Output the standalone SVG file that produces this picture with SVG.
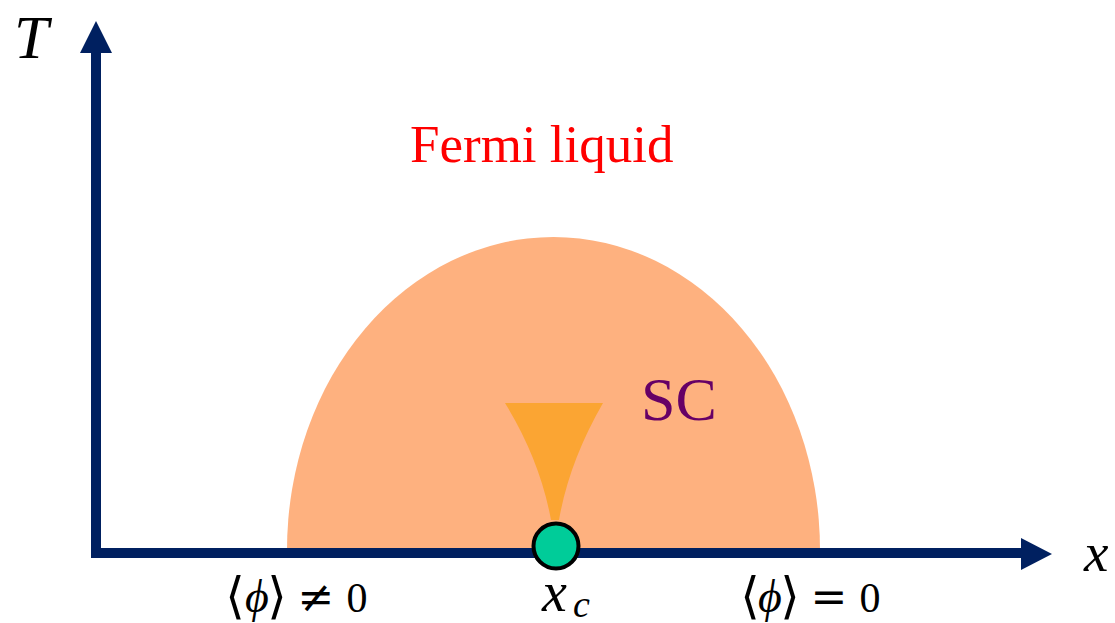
<svg xmlns="http://www.w3.org/2000/svg" width="1115" height="623" viewBox="0 0 1115 623">
<style>
.axis{stroke:#002060;stroke-width:10;fill:none}
.head{fill:#002060}
.math{font-family:"Liberation Serif","DejaVu Serif",serif;font-style:italic;fill:#000}
.rm{font-family:"Liberation Serif","DejaVu Serif",serif;fill:#000}
.br{font-family:"DejaVu Serif","Liberation Serif",serif;fill:#000}
</style>
<rect width="1115" height="623" fill="#fff"/>
<g id="dome">
<path d="M287,550 A266.5,313 0 0 1 820,550 Z" fill="#FEB17F"/>
</g>
<g id="funnel">
<path d="M505,403 L603,403 Q569,462 559,520 L551,520 Q540,460 505,403 Z" fill="#FBA533"/>
</g>
<g id="connectors">
<line class="axis" x1="96" y1="558" x2="96" y2="48"/>
<polygon class="head" points="96,21 112,53 80,53"/>
<line class="axis" x1="91" y1="553" x2="1026" y2="553"/>
<polygon class="head" points="1052,554 1021,538 1021,570"/>
</g>
<g id="qcp">
<circle cx="556" cy="546" r="22.5" fill="#00CC99" stroke="#000" stroke-width="4"/>
</g>
<g id="label-T"><text class="math" x="14" y="58" font-size="62">T</text></g>
<g id="label-x"><text class="math" x="1084" y="571" font-size="55">x</text></g>
<g id="label-fermi"><text x="410" y="162" font-family="Liberation Serif, serif" font-size="53" fill="#FF0000">Fermi liquid</text></g>
<g id="label-sc"><text x="641" y="420" font-family="Liberation Serif, serif" font-size="62" fill="#660066">SC</text></g>
<g id="label-left">
<text>
<tspan class="br" x="235" y="613" font-size="50" text-anchor="middle">⟨</tspan><tspan class="math" x="257" y="612" font-size="46" text-anchor="middle">ϕ</tspan><tspan class="br" x="277" y="613" font-size="50" text-anchor="middle">⟩</tspan><tspan class="br" x="316" y="612" font-size="44" text-anchor="middle">≠</tspan><tspan class="rm" x="357" y="612" font-size="42" text-anchor="middle">0</tspan>
</text>
</g>
<g id="label-xc">
<text><tspan class="math" x="542" y="611" font-size="56">x</tspan><tspan class="math" x="573" y="617" font-size="38">c</tspan></text>
</g>
<g id="label-right">
<text>
<tspan class="br" x="750" y="613" font-size="50" text-anchor="middle">⟨</tspan><tspan class="math" x="770" y="612" font-size="46" text-anchor="middle">ϕ</tspan><tspan class="br" x="790" y="613" font-size="50" text-anchor="middle">⟩</tspan><tspan class="br" x="829" y="612" font-size="44" text-anchor="middle">=</tspan><tspan class="rm" x="870" y="612" font-size="42" text-anchor="middle">0</tspan>
</text>
</g>
</svg>
